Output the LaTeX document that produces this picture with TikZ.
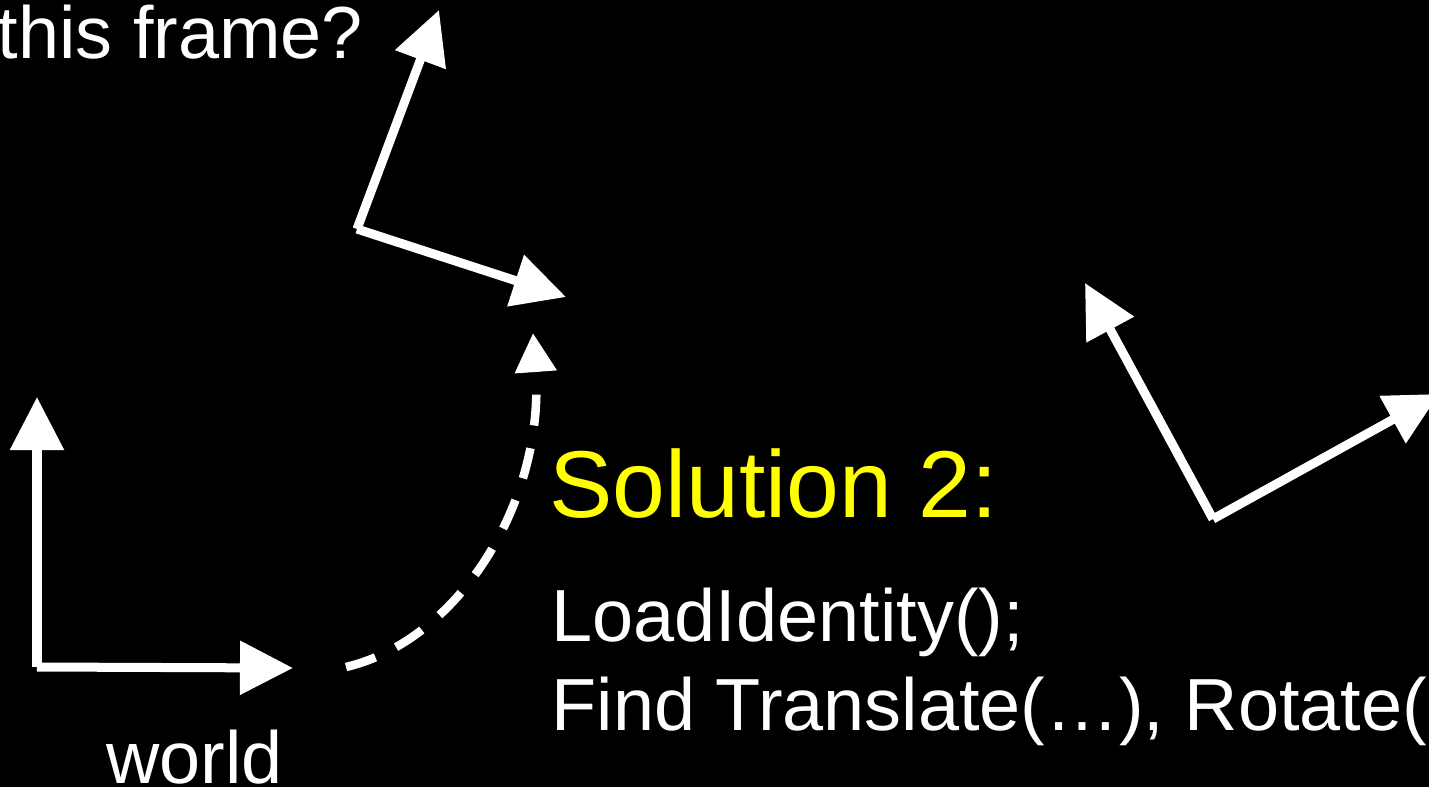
\documentclass[tikz,border=0pt]{standalone}
\usepackage{fontspec}
\setmainfont{Liberation Sans}
\usetikzlibrary{arrows.meta}

\begin{document}
\begin{tikzpicture}[x=0.01cm, y=-0.01cm,
	axis/.style={draw=white, line width=0.9mm, line cap=butt, -{Triangle[length=5.3mm, width=5.2mm]}},
	moveline/.style={draw=white, line width=0.85mm, dash pattern=on 3.1mm off 2.3mm, -{Triangle[length=3.9mm, width=4mm]}},
	txt/.style={text=white, inner sep=0pt, anchor=base west, font=\fontsize{21pt}{25pt}\selectfont}]
	\useasboundingbox (0, 0) rectangle (1429, 787);
	\clip (0, 0) rectangle (1429, 787);
	\fill [black] (0, 0) rectangle (1429, 787);
	
	\node [txt] (q) at (-3, 58) {this frame?};
	\node [txt] (world) at (105.5, 783) {world};
	\node [txt, text={rgb,255:red,255;green,255;blue,0}, font=\fontsize{27pt}{32pt}\selectfont] (sol) at (548.5, 517) {Solution 2:};
	\node [txt] (l1) at (551, 641) {LoadIdentity();};
	\node [txt] (l2) at (551, 730) {Find Translate(…), Rotate(};
	
	\coordinate (wo) at (37, 667);
	\coordinate (wx) at (293, 668);
	\coordinate (wy) at (37, 397);
	
	\coordinate (ao) at (357, 229);
	\coordinate (ax) at (566, 297);
	\coordinate (ay) at (439, 10);
	
	\coordinate (bo) at (1213, 519);
	\coordinate (bx) at (1439, 394);
	\coordinate (by) at (1085, 283);
	
	\coordinate (ds) at (346, 667);
	\coordinate (dt) at (533, 333);
	
	\draw [axis] (wo) to (wx);
	\draw [axis] (wo) to (wy);
	
	\draw [axis] (ao) to (ax);
	\draw [axis] (ao) to (ay);
	
	\draw [axis] (bo) to (bx);
	\draw [axis] (bo) to (by);
	
	\draw [moveline] (ds) .. controls (460, 640) and (545, 500) .. (dt);
\end{tikzpicture}
\end{document}
